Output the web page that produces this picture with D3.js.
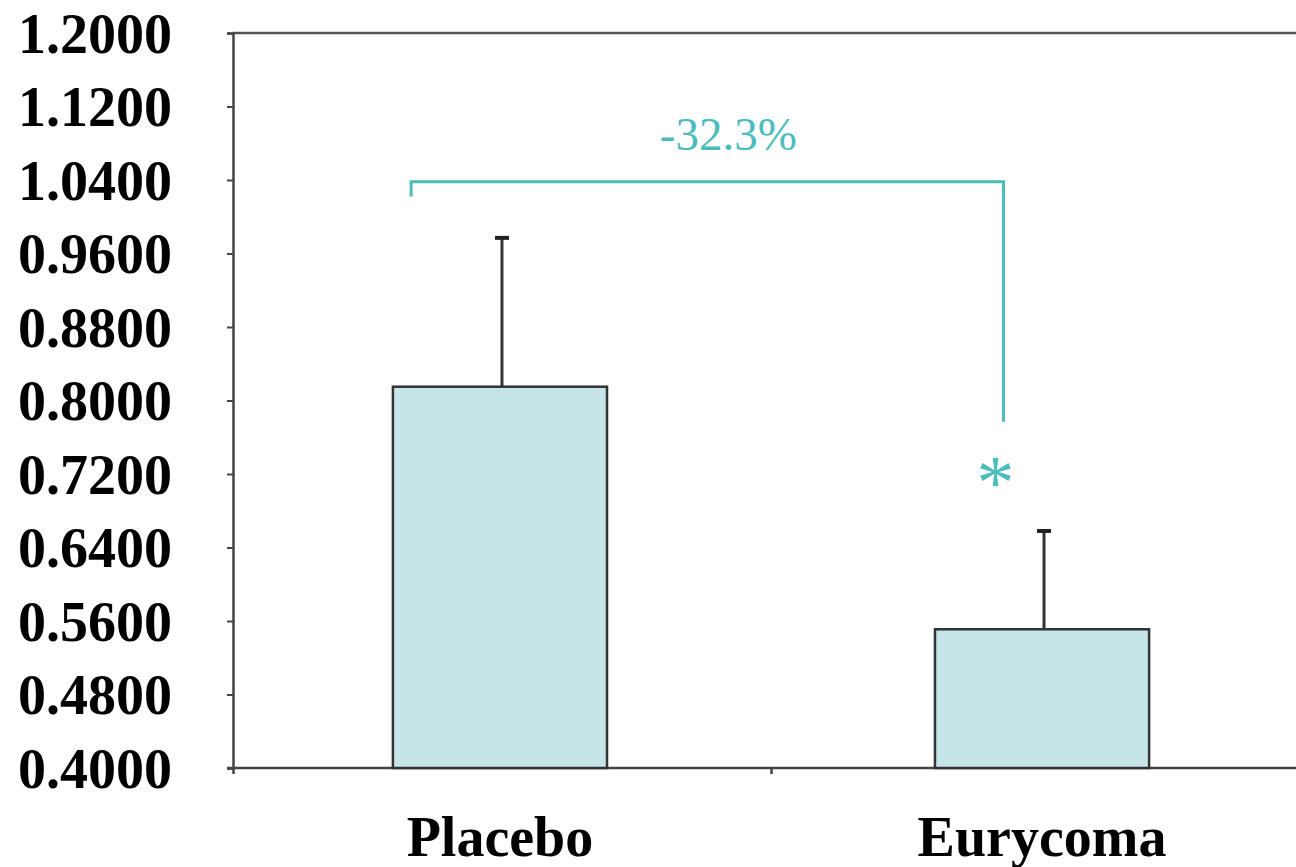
<!DOCTYPE html>
<html>
<head>
<meta charset="utf-8">
<script src="https://cdn.jsdelivr.net/npm/d3@7"></script>
<style>
  body { margin: 0; background: #fff; overflow: hidden; }
  .tickText { font-family: "Liberation Serif", "Times New Roman", serif; font-weight: bold; font-size: 56px; fill: #000; }
  .annot { font-family: "Liberation Serif", "Times New Roman", serif; fill: #4bbcbc; }
</style>
</head>
<body>
<div id="chart"></div>
<script>
// chart data
var groups = ["Placebo", "Eurycoma"];
var means = [0.815, 0.551];
var errors = [0.162, 0.107];
var yTicks = [0.40, 0.48, 0.56, 0.64, 0.72, 0.80, 0.88, 0.96, 1.04, 1.12, 1.20];
var changeLabel = "-32.3%";

var svgWidth = 1296;
var svgHeight = 867;
var margin = { top: 33, right: 0, bottom: 99, left: 233 };
var height = svgHeight - margin.top - margin.bottom;
var plotRight = 1076; // plot continues past the window edge

var svg = d3.select("#chart")
    .append("svg")
    .attr("width", svgWidth)
    .attr("height", svgHeight);

var chartGroup = svg.append("g")
    .attr("transform", `translate(${margin.left}, ${margin.top})`);

// scales
var xBandScale = d3.scaleBand()
    .domain(groups)
    .range([0, plotRight])
    .paddingInner(0.605)
    .paddingOuter(0.295);

var yLinearScale = d3.scaleLinear()
    .domain([0.4, 1.2])
    .range([height, 0]);

var axisColor = "#444";

// top frame line
chartGroup.append("line")
    .attr("x1", 0)
    .attr("x2", svgWidth)
    .attr("y1", yLinearScale(1.2))
    .attr("y2", yLinearScale(1.2))
    .attr("stroke", "#555")
    .attr("stroke-width", 2.5);

// left axis
var leftAxis = d3.axisLeft(yLinearScale)
    .tickValues(yTicks)
    .tickSize(6)
    .tickPadding(55)
    .tickFormat(d3.format(".4f"));

var yAxisG = chartGroup.append("g").call(leftAxis);
yAxisG.select(".domain").attr("stroke", axisColor).attr("stroke-width", 2.5);
yAxisG.selectAll(".tick line").attr("stroke", axisColor).attr("stroke-width", 2);
yAxisG.selectAll(".tick text")
    .attr("class", "tickText")
    .attr("dy", "0.34em")
    .style("font-family", null).style("font-size", null);
yAxisG.attr("font-size", null).attr("font-family", null);

// bottom axis: separator ticks between groups
var step = xBandScale.step();
var sepTicks = [0, xBandScale(groups[0]) + xBandScale.bandwidth() + (step - xBandScale.bandwidth()) / 2];
var sepScale = d3.scaleLinear().domain([0, svgWidth]).range([0, svgWidth]);
var bottomAxis = d3.axisBottom(sepScale)
    .tickValues(sepTicks)
    .tickSize(6)
    .tickFormat("");
var xAxisG = chartGroup.append("g")
    .attr("transform", `translate(0, ${height})`)
    .call(bottomAxis);
xAxisG.select(".domain").attr("d", `M-6,0H${svgWidth}`).attr("stroke", axisColor).attr("stroke-width", 2.5);
xAxisG.selectAll(".tick line").attr("stroke", axisColor).attr("stroke-width", 2.5);

// category labels
chartGroup.selectAll(".catLabel")
    .data(groups)
    .enter()
    .append("text")
    .attr("class", "tickText")
    .attr("x", d => xBandScale(d) + xBandScale.bandwidth() / 2)
    .attr("y", height + 88)
    .attr("text-anchor", "middle")
    .text(d => d);

// error bars (upper only)
var errG = chartGroup.selectAll(".err")
    .data(groups)
    .enter()
    .append("g");

errG.append("line")
    .attr("x1", d => xBandScale(d) + xBandScale.bandwidth() / 2 + 2)
    .attr("x2", d => xBandScale(d) + xBandScale.bandwidth() / 2 + 2)
    .attr("y1", (d, i) => yLinearScale(means[i]))
    .attr("y2", (d, i) => yLinearScale(means[i] + errors[i]))
    .attr("stroke", "#333")
    .attr("stroke-width", 3);

errG.append("line")
    .attr("x1", d => xBandScale(d) + xBandScale.bandwidth() / 2 - 5)
    .attr("x2", d => xBandScale(d) + xBandScale.bandwidth() / 2 + 9)
    .attr("y1", (d, i) => yLinearScale(means[i] + errors[i]))
    .attr("y2", (d, i) => yLinearScale(means[i] + errors[i]))
    .attr("stroke", "#222")
    .attr("stroke-width", 4);

// bars
chartGroup.selectAll(".bar")
    .data(groups)
    .enter()
    .append("rect")
    .attr("x", d => xBandScale(d))
    .attr("y", (d, i) => yLinearScale(means[i]))
    .attr("width", xBandScale.bandwidth())
    .attr("height", (d, i) => height - yLinearScale(means[i]))
    .attr("fill", "#c6e5e9")
    .attr("stroke", "#333")
    .attr("stroke-width", 2.5);

// significance bracket
var bw = xBandScale.bandwidth();
var bx1 = xBandScale(groups[0]) + 0.085 * bw;
var bx2 = xBandScale(groups[1]) + 0.32 * bw;
var bracketPath = d3.path();
bracketPath.moveTo(bx1, yLinearScale(1.022));
bracketPath.lineTo(bx1, yLinearScale(1.038));
bracketPath.lineTo(bx2, yLinearScale(1.038));
bracketPath.lineTo(bx2, yLinearScale(0.777));
chartGroup.append("path")
    .attr("d", bracketPath.toString())
    .attr("fill", "none")
    .attr("stroke", "#4bbcbc")
    .attr("stroke-width", 3);

chartGroup.append("text")
    .attr("class", "annot")
    .attr("x", (bx1 + bx2) / 2 + 21)
    .attr("y", yLinearScale(1.0727))
    .attr("text-anchor", "middle")
    .style("font-size", "47px")
    .text(changeLabel);

chartGroup.append("text")
    .attr("class", "annot")
    .attr("x", bx2 - 8)
    .attr("y", yLinearScale(0.683))
    .attr("text-anchor", "middle")
    .style("font-size", "76px")
    .text("*");
</script>
</body>
</html>
